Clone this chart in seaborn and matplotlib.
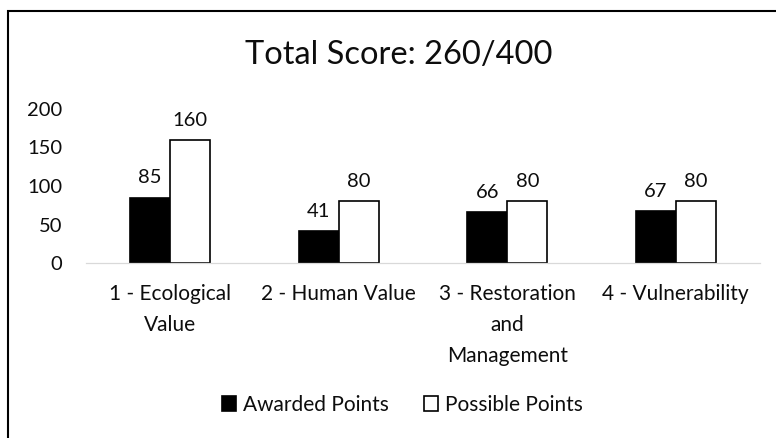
import pandas as pd
import matplotlib.pyplot as plt
import matplotlib.patches as mpatches
import seaborn as sns

# Data
categories = ["1 - Ecological\nValue", "2 - Human Value",
              "3 - Restoration\nand\nManagement", "4 - Vulnerability"]
awarded = [85, 41, 66, 67]
possible = [160, 80, 80, 80]
series_names = ["Awarded Points", "Possible Points"]
title_text = "Total Score: 260/400"

df = pd.DataFrame({
    "category": categories * 2,
    "points": awarded + possible,
    "series": [series_names[0]] * len(categories) + [series_names[1]] * len(categories),
})

sns.set_style("white")
plt.rcParams["font.family"] = ["Lato", "DejaVu Sans"]

fig = plt.figure(figsize=(7.76, 4.38), dpi=100)
ax = fig.add_axes([86 / 776, 1 - 263 / 438, (760 - 86) / 776, (263 - 109) / 438])

sns.barplot(data=df, x="category", y="points", hue="series",
            palette={series_names[0]: "black", series_names[1]: "white"},
            edgecolor="black", linewidth=1.2, width=0.475, saturation=1,
            errorbar=None, ax=ax)

for c in ax.containers:
    ax.bar_label(c, padding=8, fontsize=14.5, color="#0d0d0d")

ax.set_ylim(0, 200)
ax.set_xlim(-0.5, 3.5)
ax.set_yticks([0, 50, 100, 150, 200])
ax.set_xlabel("")
ax.set_ylabel("")
ax.tick_params(axis="y", length=0, pad=17, labelsize=14.5, labelcolor="#0d0d0d")
ax.tick_params(axis="x", length=0, pad=15, labelsize=15, labelcolor="#0d0d0d")
for lbl in ax.get_xticklabels():
    lbl.set_linespacing(1.68)

for s in ["top", "right", "left"]:
    ax.spines[s].set_visible(False)
ax.spines["bottom"].set_color("#d9d9d9")
ax.spines["bottom"].set_linewidth(0.9)
ax.spines["bottom"].set_zorder(5)

# Legend
ax.legend(loc="center", bbox_to_anchor=(0.519, 0.0753), bbox_transform=fig.transFigure,
          ncol=2, frameon=False, fontsize=15, handlelength=0.65, handleheight=0.7,
          handletextpad=0.35, columnspacing=1.7, labelcolor="#0d0d0d")

fig.text(0.5135, 1 - 55 / 438, title_text, ha="center", va="center",
         fontsize=23.5, color="#0d0d0d")

# Chart border (extends past the image on the right and bottom)
border = mpatches.Rectangle((8.3 / 776, -0.1), 1.2, 1 - 10.7 / 438 + 0.1,
                            transform=fig.transFigure, fill=False,
                            edgecolor="black", linewidth=1.5, clip_on=False)
fig.patches.append(border)

fig.savefig("out.png", dpi=100)
